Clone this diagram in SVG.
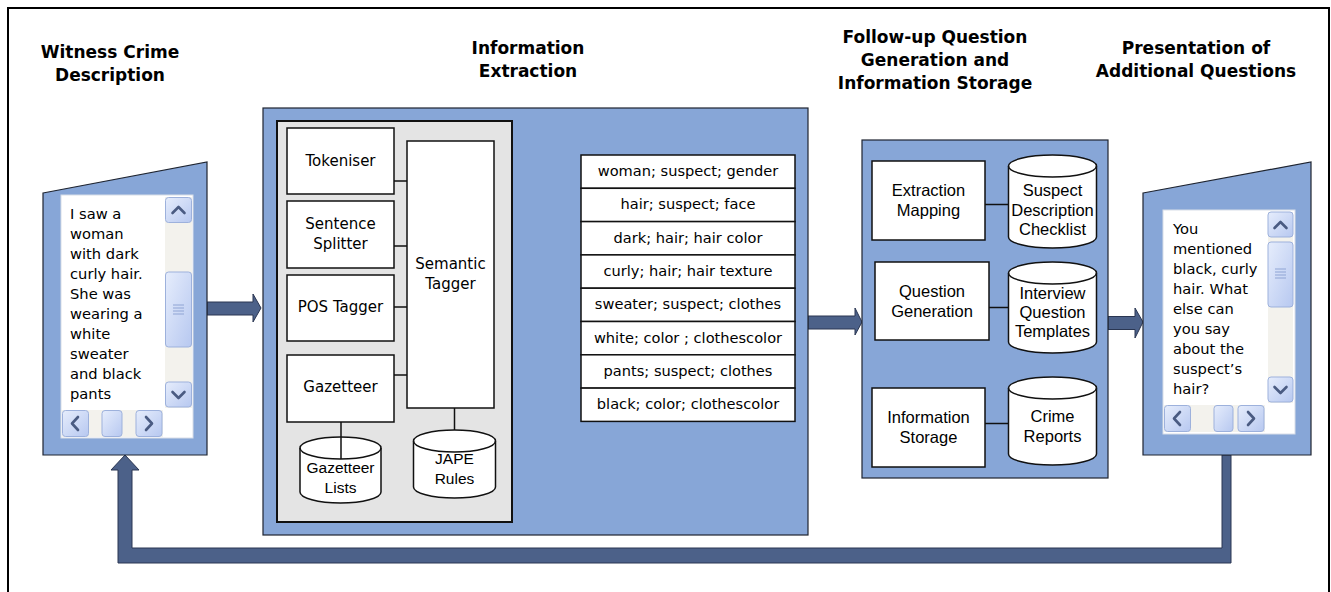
<svg xmlns="http://www.w3.org/2000/svg" width="1331" height="592" viewBox="0 0 1331 592">
<defs>
<style>
.panel{fill:#87a6d7;stroke:#1e2430;stroke-width:1.2}
.box{fill:#ffffff;stroke:#111;stroke-width:1.5}
.gray{fill:#e4e4e4;stroke:#111;stroke-width:2}
.ln{stroke:#111;stroke-width:1.5;fill:none}
.hdr{font-family:"DejaVu Sans",Verdana,sans-serif;font-weight:bold;font-size:17px;fill:#000;text-anchor:middle}
.t{font-family:"DejaVu Sans",Verdana,sans-serif;font-size:14.7px;fill:#000}
.tc{font-family:"DejaVu Sans",Verdana,sans-serif;font-size:14.6px;fill:#000;text-anchor:middle}
.tb{font-family:"DejaVu Sans",Verdana,sans-serif;font-size:15px;fill:#000;text-anchor:middle}
.ta{font-family:"Liberation Sans",Arial,sans-serif;font-size:16.5px;fill:#000;text-anchor:middle}
.tn{font-family:"Liberation Sans",Arial,sans-serif;font-size:15.5px;fill:#000;text-anchor:middle}
.small{font-family:"DejaVu Sans",Verdana,sans-serif;font-size:12px;fill:#000}
.arrow{fill:#4c6189;stroke:#2a3652;stroke-width:1}
.track{fill:#f3f2ed}
.btn{fill:url(#btnG);stroke:#9db1dc;stroke-width:1}
.chev{fill:none;stroke:#4a5b82;stroke-width:2.6;stroke-linecap:round;stroke-linejoin:round}
.grip{stroke:#8fa4d4;stroke-width:1}
</style>
<linearGradient id="btnG" x1="0" y1="0" x2="1" y2="1">
<stop offset="0" stop-color="#e6edfc"/>
<stop offset="1" stop-color="#b7c8f0"/>
</linearGradient>
</defs>

<rect x="8" y="8" width="1321" height="640" fill="#fff" stroke="#000" stroke-width="2"/>

<!-- Headers -->
<g id="headers">
<text class="hdr" x="110" y="58">Witness Crime</text>
<text class="hdr" x="110" y="81">Description</text>
<text class="hdr" x="528" y="54">Information</text>
<text class="hdr" x="528" y="77">Extraction</text>
<text class="hdr" x="935" y="43">Follow-up Question</text>
<text class="hdr" x="935" y="66">Generation and</text>
<text class="hdr" x="935" y="89">Information Storage</text>
<text class="hdr" x="1196" y="54">Presentation of</text>
<text class="hdr" x="1196" y="77">Additional Questions</text>
</g>

<!-- Connectors -->
<g id="connectors">
<polygon class="arrow" points="207,302 253,302 253,294 261,308 253,322 253,315 207,315"/>
<polygon class="arrow" points="808,316 855,316 855,308 862,322 855,335 855,329 808,329"/>
<polygon class="arrow" points="1108,316.5 1135,316.5 1135,308 1143,322 1135,338 1135,329.5 1108,329.5"/>
<polygon class="arrow" points="125,455 139,470 132,470 132,548 1222,548 1222,455 1231,455 1231,563 118,563 118,470 111,470"/>
<line x1="515" y1="298.5" x2="568" y2="298.5" stroke="#000" stroke-width="1.5" stroke-dasharray="1.5,3"/>
<path d="M567,292 L581,298.5 L567,305 z" fill="#000"/>
<text class="small" x="516" y="274">extraction</text>
</g>

<!-- Witness panel -->
<g id="witness">
<polygon class="panel" points="43,193 207,162 207,455 43,455"/>
<rect x="61" y="195" width="132" height="243" fill="#fff" stroke="#d8dde8" stroke-width="1"/>
<rect class="track" x="165" y="197" width="27" height="211"/>
<rect class="track" x="62" y="410" width="101" height="27"/>
<rect class="btn" x="165.5" y="197.5" width="26" height="25" rx="3"/>
<path class="chev" d="M172.5,213 L178.5,207 L184.5,213"/>
<rect class="btn" x="165.5" y="272" width="26" height="75" rx="3"/>
<line class="grip" x1="173" y1="305" x2="184" y2="305"/>
<line class="grip" x1="173" y1="308" x2="184" y2="308"/>
<line class="grip" x1="173" y1="311" x2="184" y2="311"/>
<line class="grip" x1="173" y1="314" x2="184" y2="314"/>
<rect class="btn" x="165.5" y="382" width="26" height="25" rx="3"/>
<path class="chev" d="M172.5,392 L178.5,398 L184.5,392"/>
<rect class="btn" x="62.5" y="410.5" width="26" height="26" rx="3"/>
<path class="chev" d="M78,417 L72,423.5 L78,430"/>
<rect class="btn" x="102" y="410.5" width="20" height="26" rx="3"/>
<rect class="btn" x="136" y="410.5" width="26" height="26" rx="3"/>
<path class="chev" d="M146,417 L152,423.5 L146,430"/>
<text class="t" x="70" y="219">I saw a</text>
<text class="t" x="70" y="239">woman</text>
<text class="t" x="70" y="259">with dark</text>
<text class="t" x="70" y="279">curly hair.</text>
<text class="t" x="70" y="299">She was</text>
<text class="t" x="70" y="319">wearing a</text>
<text class="t" x="70" y="339">white</text>
<text class="t" x="70" y="359">sweater</text>
<text class="t" x="70" y="379">and black</text>
<text class="t" x="70" y="399">pants</text>
</g>

<!-- Information Extraction panel -->
<g id="info-extraction">
<rect class="panel" x="263" y="108" width="545" height="427"/>
<rect class="gray" x="277" y="121" width="235" height="401"/>
</g>
<g id="tokeniser"><rect class="box" x="287" y="128" width="107" height="66"/><text class="tb" x="340.5" y="166">Tokeniser</text></g>
<g id="sentence-splitter"><rect class="box" x="287" y="201" width="107" height="67"/><text class="tb" x="340.5" y="229">Sentence</text><text class="tb" x="340.5" y="249">Splitter</text></g>
<g id="pos-tagger"><rect class="box" x="287" y="275" width="107" height="66"/><text class="tb" x="340.5" y="312">POS Tagger</text></g>
<g id="gazetteer"><rect class="box" x="287" y="355" width="107" height="67"/><text class="tb" x="340.5" y="392">Gazetteer</text></g>
<g id="semantic-tagger"><rect class="box" x="407" y="141" width="87" height="267"/><text class="tb" x="450.5" y="269">Semantic</text><text class="tb" x="450.5" y="289">Tagger</text></g>
<g id="ie-links">
<line class="ln" x1="394" y1="181" x2="407" y2="181"/>
<line class="ln" x1="394" y1="246" x2="407" y2="246"/>
<line class="ln" x1="394" y1="307" x2="407" y2="307"/>
<line class="ln" x1="394" y1="375" x2="407" y2="375"/>
<line class="ln" x1="341" y1="422" x2="341" y2="452"/>
<line class="ln" x1="454.5" y1="408" x2="454.5" y2="431"/>
</g>
<g id="gazetteer-lists">
<path class="box" d="M300,448 A40.5,11 0 0 1 381,448 L381,492 A40.5,11 0 0 1 300,492 Z"/>
<path class="ln" d="M300,448 A40.5,11 0 0 0 381,448"/>
<line class="ln" x1="341" y1="437" x2="341" y2="459"/>
<text class="tn" x="340.5" y="473">Gazetteer</text>
<text class="tn" x="340.5" y="493">Lists</text>
</g>
<g id="jape-rules">
<path class="box" d="M413.5,441 A41,11 0 0 1 495.5,441 L495.5,487 A41,11 0 0 1 413.5,487 Z"/>
<path class="ln" d="M413.5,441 A41,11 0 0 0 495.5,441"/>
<text class="tn" x="454.5" y="464">JAPE</text>
<text class="tn" x="454.5" y="484">Rules</text>
</g>
<g id="extraction-table">
<rect class="box" x="581" y="155" width="214" height="33.3"/>
<rect class="box" x="581" y="188.3" width="214" height="33.3"/>
<rect class="box" x="581" y="221.6" width="214" height="33.3"/>
<rect class="box" x="581" y="254.9" width="214" height="33.3"/>
<rect class="box" x="581" y="288.2" width="214" height="33.3"/>
<rect class="box" x="581" y="321.5" width="214" height="33.3"/>
<rect class="box" x="581" y="354.8" width="214" height="33.3"/>
<rect class="box" x="581" y="388.1" width="214" height="33.3"/>
<text class="tc" x="688" y="176">woman; suspect; gender</text>
<text class="tc" x="688" y="209">hair; suspect; face</text>
<text class="tc" x="688" y="243">dark; hair; hair color</text>
<text class="tc" x="688" y="276">curly; hair; hair texture</text>
<text class="tc" x="688" y="309">sweater; suspect; clothes</text>
<text class="tc" x="688" y="343">white; color ; clothescolor</text>
<text class="tc" x="688" y="376">pants; suspect; clothes</text>
<text class="tc" x="688" y="409">black; color; clothescolor</text>
</g>

<!-- Follow-up panel -->
<g id="followup">
<rect class="panel" x="862" y="140" width="246" height="338"/>
</g>
<g id="extraction-mapping"><rect class="box" x="872" y="161" width="113" height="79"/><text class="ta" x="928.5" y="196">Extraction</text><text class="ta" x="928.5" y="216">Mapping</text></g>
<g id="question-generation"><rect class="box" x="875" y="262" width="114" height="78"/><text class="ta" x="932" y="297">Question</text><text class="ta" x="932" y="317">Generation</text></g>
<g id="information-storage"><rect class="box" x="872" y="388" width="113" height="79"/><text class="ta" x="928.5" y="423">Information</text><text class="ta" x="928.5" y="443">Storage</text></g>
<g id="fu-links">
<line class="ln" x1="985" y1="204.5" x2="1008" y2="204.5"/>
<line class="ln" x1="989" y1="307.5" x2="1008" y2="307.5"/>
<line class="ln" x1="985" y1="423.5" x2="1008" y2="423.5"/>
</g>
<g id="suspect-checklist">
<path class="box" d="M1008.5,166 A44,11 0 0 1 1096.5,166 L1096.5,237 A44,11 0 0 1 1008.5,237 Z"/>
<path class="ln" d="M1008.5,166 A44,11 0 0 0 1096.5,166"/>
<text class="ta" x="1052.5" y="196">Suspect</text>
<text class="ta" x="1052.5" y="216">Description</text>
<text class="ta" x="1052.5" y="235">Checklist</text>
</g>
<g id="interview-templates">
<path class="box" d="M1008.5,273 A44,11 0 0 1 1096.5,273 L1096.5,342 A44,11 0 0 1 1008.5,342 Z"/>
<path class="ln" d="M1008.5,273 A44,11 0 0 0 1096.5,273"/>
<text class="ta" x="1052.5" y="299">Interview</text>
<text class="ta" x="1052.5" y="318">Question</text>
<text class="ta" x="1052.5" y="337">Templates</text>
</g>
<g id="crime-reports">
<path class="box" d="M1008.5,388 A44,11 0 0 1 1096.5,388 L1096.5,454 A44,11 0 0 1 1008.5,454 Z"/>
<path class="ln" d="M1008.5,388 A44,11 0 0 0 1096.5,388"/>
<text class="ta" x="1052.5" y="422">Crime</text>
<text class="ta" x="1052.5" y="442">Reports</text>
</g>

<!-- Presentation panel -->
<g id="presentation">
<polygon class="panel" points="1143,193 1311,162 1311,455 1143,455"/>
<rect x="1163" y="210" width="132" height="224" fill="#fff" stroke="#d8dde8" stroke-width="1"/>
<rect class="track" x="1268" y="212" width="25" height="191"/>
<rect class="track" x="1164" y="405" width="101" height="27"/>
<rect class="btn" x="1268" y="212" width="25" height="25" rx="3"/>
<path class="chev" d="M1274.5,228 L1280.5,222 L1286.5,228"/>
<rect class="btn" x="1268" y="242" width="25" height="65" rx="3"/>
<line class="grip" x1="1275" y1="269" x2="1286" y2="269"/>
<line class="grip" x1="1275" y1="272" x2="1286" y2="272"/>
<line class="grip" x1="1275" y1="275" x2="1286" y2="275"/>
<line class="grip" x1="1275" y1="278" x2="1286" y2="278"/>
<rect class="btn" x="1268" y="377" width="25" height="25" rx="3"/>
<path class="chev" d="M1274.5,387 L1280.5,393 L1286.5,387"/>
<rect class="btn" x="1164.5" y="405.5" width="26" height="26" rx="3"/>
<path class="chev" d="M1180,412 L1174,418.5 L1180,425"/>
<rect class="btn" x="1214" y="405.5" width="19" height="26" rx="3"/>
<rect class="btn" x="1238" y="405.5" width="26" height="26" rx="3"/>
<path class="chev" d="M1248,412 L1254,418.5 L1248,425"/>
<text class="t" x="1173" y="234">You</text>
<text class="t" x="1173" y="254">mentioned</text>
<text class="t" x="1173" y="274">black, curly</text>
<text class="t" x="1173" y="294">hair. What</text>
<text class="t" x="1173" y="314">else can</text>
<text class="t" x="1173" y="334">you say</text>
<text class="t" x="1173" y="354">about the</text>
<text class="t" x="1173" y="374">suspect’s</text>
<text class="t" x="1173" y="394">hair?</text>
</g>
</svg>
